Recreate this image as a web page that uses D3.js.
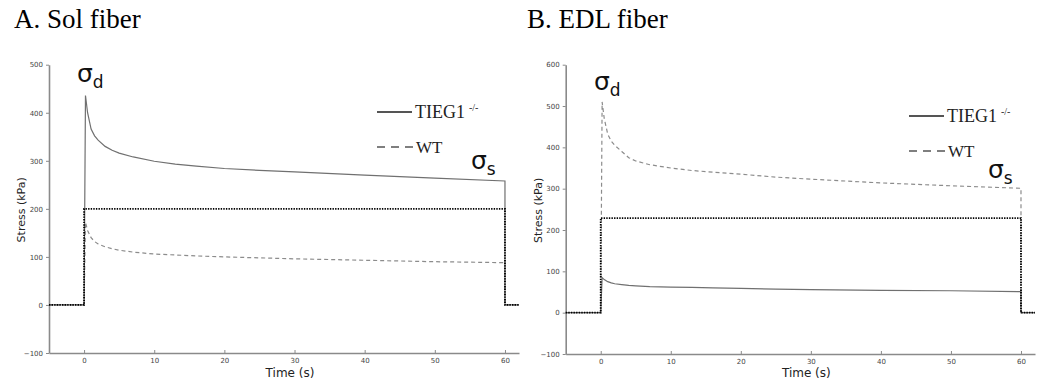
<!DOCTYPE html>
<html>
<head>
<meta charset="utf-8">
<script src="https://cdn.jsdelivr.net/npm/d3@7"></script>
<style>
  body { margin: 0; background: #fff; }
  svg { display: block; }
  .tick text { font-family: "DejaVu Sans", sans-serif; fill: #444; }
</style>
</head>
<body>
<svg id="chart" width="1039" height="383"></svg>
<script>
// time points (s) shared by the response curves
const time = [-5, 0, 0.2, 0.5, 1, 1.5, 2, 3, 4, 5, 7, 10, 13, 16, 20, 25, 30, 40, 50, 60, 60, 62];

// A. Sol fiber (kPa)
const solTIEG1 = [0, 0, 436, 400, 366, 352, 343, 330, 322, 316, 308, 299, 293, 289, 284, 280, 277, 270, 264, 258, 0, 0];
const solWT    = [0, 0, 172, 155, 140, 132, 127, 121, 117, 114, 110, 106, 104, 102, 100, 98, 96, 93, 90, 88, 0, 0];

// B. EDL fiber (kPa)
const edlTIEG1 = [0, 0, 85, 80, 75, 72, 70, 68, 66, 65, 63, 62, 61, 60, 59, 57, 56, 54, 53, 51, 0, 0];
const edlWT    = [0, 0, 510, 470, 432, 415, 405, 390, 375, 367, 358, 350, 344, 340, 335, 328, 323, 314, 307, 301, 0, 0];

// applied step (dotted)
const stimTime = [-5, 0, 0, 60, 60, 62];
const solStim = [0, 0, 200, 200, 0, 0];
const edlStim = [0, 0, 229, 229, 0, 0];

const xTicks = [0, 10, 20, 30, 40, 50, 60];
const solYTicks = [-100, 0, 100, 200, 300, 400, 500];
const edlYTicks = [-100, 0, 100, 200, 300, 400, 500, 600];

const svg = d3.select('#chart');

function drawPanel(p) {
  const x = d3.scaleLinear().domain([-5, 62]).range(p.xRange);
  const y = d3.scaleLinear().domain(p.yDomain).range(p.yRange);
  const g = svg.append('g');

  // title
  svg.append('text')
    .attr('x', p.titleX).attr('y', 28)
    .style('font-family', '"Liberation Serif", "Times New Roman", serif')
    .style('font-size', '27px')
    .text(p.title);

  // axes - only left and bottom spines, matplotlib look
  const xAxis = g.append('g')
    .attr('transform', `translate(0,${p.yRange[0]})`)
    .call(d3.axisBottom(x).tickValues(xTicks).tickSizeInner(-3).tickSizeOuter(0).tickPadding(5));
  const yAxis = g.append('g')
    .attr('transform', `translate(${p.xRange[0]},0)`)
    .call(d3.axisLeft(y).tickValues(p.yTicks).tickSizeInner(3).tickSizeOuter(0).tickPadding(3)
      .tickFormat(d => d < 0 ? '\u2212' + Math.abs(d) : d));
  [xAxis, yAxis].forEach(a => {
    a.select('.domain').attr('stroke', '#8a8a8a').attr('stroke-width', 1.6);
    a.selectAll('.tick line').attr('stroke', '#8a8a8a');
    a.selectAll('.tick text').style('font-size', '7px').attr('fill', '#444');
  });

  // axis labels
  g.append('text')
    .attr('x', (p.xRange[0] + x(62)) / 2 + 6).attr('y', 377)
    .attr('text-anchor', 'middle')
    .style('font-family', '"DejaVu Sans", sans-serif').style('font-size', '12px')
    .attr('fill', '#222')
    .text('Time (s)');
  g.append('text')
    .attr('transform', `translate(${p.xRange[0] - 24},${(p.yRange[0] + p.yRange[1]) / 2 + 1}) rotate(-90)`)
    .attr('text-anchor', 'middle')
    .style('font-family', '"DejaVu Sans", sans-serif').style('font-size', '11px')
    .attr('fill', '#222')
    .text('Stress (kPa)');

  const line = d3.line().x(d => x(d[0])).y(d => y(d[1]));

  g.append('path')
    .datum(d3.zip(time, p.wt))
    .attr('d', line)
    .attr('fill', 'none').attr('stroke', '#8c8c8c').attr('stroke-width', 1.2)
    .attr('stroke-dasharray', '4,3');
  g.append('path')
    .datum(d3.zip(time, p.tieg))
    .attr('d', line)
    .attr('fill', 'none').attr('stroke', '#707070').attr('stroke-width', 1.2);
  g.append('path')
    .datum(d3.zip(stimTime, p.stim))
    .attr('d', line)
    .attr('fill', 'none').attr('stroke', '#000').attr('stroke-width', 1.8)
    .attr('stroke-dasharray', '1.4,1.2');

  // legend
  const lg = svg.append('g');
  const serif = '"Liberation Serif", "Times New Roman", serif';
  lg.append('line')
    .attr('x1', p.legX).attr('x2', p.legX + 35)
    .attr('y1', p.legY).attr('y2', p.legY)
    .attr('stroke', '#555').attr('stroke-width', 1.8);
  const t1 = lg.append('text')
    .attr('x', p.legX + 38).attr('y', p.legY + 6)
    .style('font-family', serif).style('font-size', '18px').attr('fill', '#222')
    .text('TIEG1');
  t1.append('tspan').attr('dx', 4).attr('dy', -7).style('font-size', '10px').text('-/-');
  lg.append('line')
    .attr('x1', p.legX).attr('x2', p.legX + 36)
    .attr('y1', p.legY + 35).attr('y2', p.legY + 35)
    .attr('stroke', '#555').attr('stroke-width', 1.5)
    .attr('stroke-dasharray', '8,6');
  lg.append('text')
    .attr('x', p.legX + 39).attr('y', p.legY + 41)
    .style('font-family', serif).style('font-size', '17px').attr('fill', '#222')
    .text('WT');

  // sigma annotations
  p.sigmas.forEach(s => {
    const t = svg.append('text')
      .attr('x', s.x).attr('y', s.y)
      .style('font-family', '"DejaVu Sans", sans-serif').style('font-size', '25px')
      .attr('fill', '#111')
      .text('\u03c3');
    t.append('tspan').attr('dy', 6).style('font-size', '17px').text(s.sub);
  });
}

drawPanel({
  title: 'A. Sol fiber', titleX: 14,
  xRange: [49, 519], yDomain: [-100, 500], yRange: [353, 64.7],
  yTicks: solYTicks, tieg: solTIEG1, wt: solWT, stim: solStim,
  legX: 377, legY: 112,
  sigmas: [{ x: 77, y: 82, sub: 'd' }, { x: 471, y: 169, sub: 's' }]
});

drawPanel({
  title: 'B. EDL fiber', titleX: 527,
  xRange: [565.7, 1035], yDomain: [-100, 600], yRange: [354, 64.7],
  yTicks: edlYTicks, tieg: edlTIEG1, wt: edlWT, stim: edlStim,
  legX: 909, legY: 116,
  sigmas: [{ x: 594, y: 90, sub: 'd' }, { x: 988, y: 178, sub: 's' }]
});
</script>
</body>
</html>
